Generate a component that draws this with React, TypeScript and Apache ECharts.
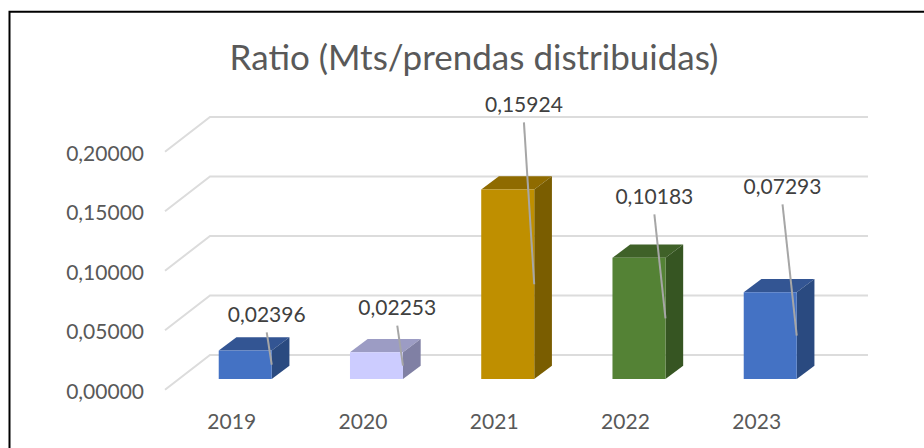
import React, { useEffect, useRef } from "react";
import * as echarts from "echarts";

const titleText = "Ratio (Mts/prendas distribuidas)";
const categories = ["2019", "2020", "2021", "2022", "2023"];
const values = [0.02396, 0.02253, 0.15924, 0.10183, 0.07293];
const gridTicks = [0, 0.05, 0.1, 0.15, 0.2];
const frontColors = ["#4472C4", "#CCCCFF", "#BF8F00", "#548235", "#4472C4"];
const topColors = ["#335593", "#9C9CC4", "#8F6B00", "#3F6128", "#335593"];
const sideColors = ["#2A4A80", "#8080A4", "#7A5D00", "#365522", "#2A4A80"];
const labelOffsets = [
  [-5, -51],
  [-5.7, -58.6],
  [-10.3, -180.5],
  [-11.1, -122.7],
  [-14.2, -149.9],
];

const FONT = "Lato, Carlito, Calibri, sans-serif";
const BAR_W = 53;
const DEPTH_X = 17.7;
const DEPTH_Y = 13.3;

const fmt = (v: number) => v.toFixed(5).replace(".", ",");

export default function App() {
  const ref = useRef<HTMLDivElement>(null);
  useEffect(() => {
    const chart = echarts.init(ref.current!, undefined, { renderer: "svg" });
    chart.setOption({
      animation: false,
      backgroundColor: "#ffffff",
      title: {
        text: titleText,
        left: 469,
        top: 33,
        textAlign: "center",
        textStyle: { fontFamily: FONT, fontSize: 35, fontWeight: "normal", color: "#595959" },
      },
      grid: { left: 179.6, width: 656.25, top: 141, height: 238 },
      xAxis: {
        type: "category",
        data: categories,
        axisLine: { show: false },
        axisTick: { show: false },
        axisLabel: {
          margin: 31,
          color: "#595959",
          fontFamily: FONT,
          fontSize: 21,
          padding: [0, 27, 0, 0],
        },
      },
      yAxis: {
        type: "value",
        min: 0,
        max: 0.2,
        interval: 0.05,
        splitLine: { show: false },
        axisLine: { show: false },
        axisTick: { show: false },
        axisLabel: {
          margin: 35.6,
          color: "#595959",
          fontFamily: FONT,
          fontSize: 21,
          verticalAlign: "top",
          lineHeight: 22,
          formatter: (v: number) => fmt(v),
        },
      },
      graphic: [
        {
          type: "polyline",
          silent: true,
          shape: { points: [[9.5, 470], [9.5, 11.7], [930, 11.7]] },
          style: { stroke: "#000000", lineWidth: 2, fill: "none" },
          z: 10,
        },
      ],
      series: [
        {
          // floor-and-wall gridlines, one per value-axis tick
          type: "custom",
          coordinateSystem: "cartesian2d",
          z: 1,
          encode: { x: 0, y: 1 },
          data: gridTicks.map((t) => [categories[0], t]),
          renderItem: (_: any, api: any) => {
            const p = api.coord([api.value(0), api.value(1)]);
            const y = p[1];
            return {
              type: "polyline",
              shape: { points: [[165, y + 10.7], [210, y - 24], [868, y - 24]] },
              style: { stroke: "#DCDCDC", lineWidth: 2, fill: "none" },
            };
          },
        },
        {
          // 3-D columns
          type: "custom",
          coordinateSystem: "cartesian2d",
          z: 2,
          encode: { x: 0, y: 1 },
          data: categories.map((c, i) => [c, values[i]]),
          renderItem: (params: any, api: any) => {
            const i = params.dataIndex;
            const top = api.coord([api.value(0), api.value(1)]);
            const base = api.coord([api.value(0), 0]);
            const l = top[0] - BAR_W / 2;
            const r = top[0] + BAR_W / 2;
            return {
              type: "group",
              children: [
                {
                  type: "polygon",
                  shape: { points: [[l, top[1]], [l + DEPTH_X, top[1] - DEPTH_Y], [r + DEPTH_X, top[1] - DEPTH_Y], [r, top[1]]] },
                  style: { fill: topColors[i] },
                },
                {
                  type: "polygon",
                  shape: { points: [[r, top[1]], [r + DEPTH_X, top[1] - DEPTH_Y], [r + DEPTH_X, base[1] - DEPTH_Y], [r, base[1]]] },
                  style: { fill: sideColors[i] },
                },
                {
                  type: "rect",
                  shape: { x: l, y: top[1], width: BAR_W, height: base[1] - top[1] },
                  style: { fill: frontColors[i] },
                },
              ],
            };
          },
        },
        {
          // data labels with leader lines
          type: "custom",
          coordinateSystem: "cartesian2d",
          z: 3,
          encode: { x: 0, y: 1 },
          data: categories.map((c, i) => [c, values[i]]),
          renderItem: (params: any, api: any) => {
            const i = params.dataIndex;
            const v = api.value(1);
            const mid = api.coord([api.value(0), v / 2]);
            const ex = mid[0] + BAR_W / 2;
            const ey = mid[1];
            const lx = ex + labelOffsets[i][0];
            const ly = ey + labelOffsets[i][1];
            return {
              type: "group",
              children: [
                {
                  type: "line",
                  shape: { x1: lx, y1: ly + 18.6, x2: ex, y2: ey },
                  style: { stroke: "#A6A6A6", lineWidth: 2 },
                },
                {
                  type: "text",
                  style: {
                    x: lx,
                    y: ly,
                    text: fmt(v),
                    align: "center",
                    verticalAlign: "middle",
                    fill: "#404040",
                    font: `21px ${FONT}`,
                  },
                },
              ],
            };
          },
        },
      ],
    });
    return () => chart.dispose();
  }, []);
  return (
    <div
      ref={ref}
      style={{ position: "absolute", left: 0, top: 0, width: 924, height: 448, overflow: "hidden" }}
    />
  );
}
